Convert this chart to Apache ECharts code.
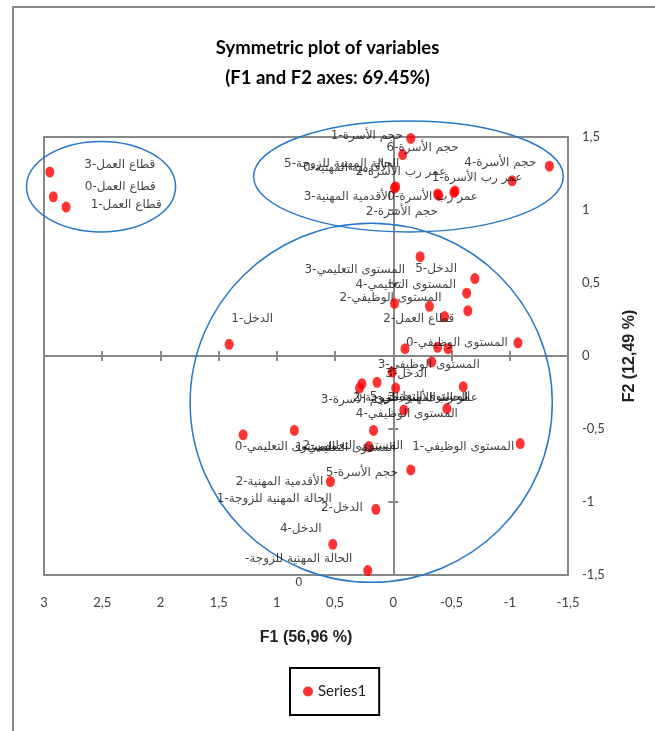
<!DOCTYPE html>
<html>
<head>
<meta charset="utf-8">
<script src="https://cdn.jsdelivr.net/npm/echarts@6/dist/echarts.min.js"></script>
<style>
  html, body { margin: 0; padding: 0; background: #fff; }
  #chart { width: 655px; height: 731px; }
</style>
</head>
<body>
<div id="chart"></div>
<script>
  // coordinates of the categories on F1 / F2
  const pointX = [
    2.95, 2.92, 2.81,
    -0.15, -0.08, -1.34, -1.02, -0.01, -0.38, -0.52, -0.02, -0.39, -0.53,
    -0.23, -0.70, -0.63, -0.01, -0.31, -0.64, -0.44, -1.07, 1.41, -0.10, -0.38, -0.47,
    -0.33, 0.01, 0.27, 0.29, 0.14, -0.02, -0.60, -0.46, -0.09,
    0.17, 0.85, 1.29, -1.09, 0.21, -0.15, 0.54, 0.15, 0.52, 0.22
  ];
  const pointY = [
    1.26, 1.09, 1.02,
    1.49, 1.38, 1.30, 1.20, 1.15, 1.11, 1.12, 1.16, 1.10, 1.13,
    0.68, 0.53, 0.43, 0.36, 0.34, 0.31, 0.27, 0.09, 0.08, 0.05, 0.06, 0.05,
    -0.04, -0.11, -0.19, -0.22, -0.18, -0.22, -0.21, -0.36, -0.37,
    -0.51, -0.51, -0.54, -0.60, -0.62, -0.78, -0.86, -1.05, -1.29, -1.47
  ];
  const pointLabels = [
    'قطاع العمل-3', 'قطاع العمل-0', 'قطاع العمل-1',
    'حجم الأسرة-1', 'حجم الأسرة-6', 'حجم الأسرة-4', 'عمر رب الأسرة-1', 'الأقدمية المهنية-3',
    'عمر رب الأسرة-0', 'حجم الأسرة-2', 'الحالة المهنية للزوجة-5', 'الأقدمية المهنية-0', 'عمر رب الأسرة-2',
    'الدخل-5', 'المستوى التعليمي-3', 'المستوى التعليمي-4', 'المستوى الوظيفي-2', '', 'قطاع العمل-2', '',
    'المستوى الوظيفي-0', 'الدخل-1', '', '', '',
    'المستوى الوظيفي-3', 'الدخل-3', 'حجم الأسرة-3', 'الحالة المهنية للزوجة-2', 'المستوى التعليمي-5',
    'عمر رب الأسرة-3', '', 'المستوى الوظيفي-4', '',
    'المستوى التعليمي-1', 'الحالة المهنية للزوجة-1', 'المستوى التعليمي-0', 'المستوى الوظيفي-1',
    'المستوى التعليمي-2', 'حجم الأسرة-5', 'الأقدمية المهنية-2', 'الدخل-2', 'الدخل-4',
    '-الحالة المهنية للزوجة\n0'
  ];
  // ellipses around groups: centre x, centre y, radius x, radius y
  const groupEllipses = [
    [2.51, 1.16, 0.64, 0.31],
    [-0.13, 1.23, 1.33, 0.38],
    [0.19, -0.32, 1.555, 1.23]
  ];
  const seriesName = 'Series1';

  // where each label sits relative to its point (px)
  const labelShift = [
    [70, -7], [67, -10], [60, -2],
    [-44, -3], [20, -7], [-49, -3], [-35, -3], [-47, 9], [-5, 3], [-52, 19], [-54, -23], [-92, -28], [-54, -19],
    [16, 12], [-120, -9], [-61, -8], [-4, -6], [0, 0], [-49, 8], [0, 0], [-61, 0], [23, -25], [0, 0], [0, 0], [0, 0],
    [-3, 3], [14, 2], [-5, 16], [51, 10], [43, 15], [37, 10], [0, 0], [-40, 5], [0, 0],
    [-28, 17], [-20, 68], [42, 12], [-57, 3], [-16, -1], [-49, 3], [-51, 0], [-34, -1], [-32, -15], [-69, 0]
  ];

  const comma = v => String(v).replace('.', ',');

  const scatterData = pointX.map((x, i) => ({
    value: [x, pointY[i]],
    label: { show: pointLabels[i] !== '', formatter: pointLabels[i], offset: labelShift[i] }
  }));

  function renderEllipse(params, api) {
    const c = api.coord([api.value(0), api.value(1)]);
    const s = api.size([api.value(2), api.value(3)]);
    return {
      type: 'ellipse',
      shape: { cx: c[0], cy: c[1], rx: s[0], ry: s[1] },
      style: { fill: null, stroke: '#2878c8', lineWidth: 1.5 }
    };
  }

  const tickAxisX = inside => ({
    type: 'value', min: -1.5, max: 3, interval: 0.5, inverse: true, position: 'bottom',
    axisLine: { show: !inside, onZero: true, onZeroAxisIndex: 0, lineStyle: { color: '#888', width: 2 } },
    axisTick: { show: true, inside: inside, length: 5, lineStyle: { color: '#888', width: 2 } },
    axisLabel: { show: false }, splitLine: { show: false }
  });
  const tickAxisY = inside => ({
    type: 'value', min: -1.5, max: 1.5, interval: 0.5, position: 'right',
    axisLine: { show: !inside, onZero: true, onZeroAxisIndex: 0, lineStyle: { color: '#888', width: 2 } },
    axisTick: { show: true, inside: inside, length: 5, lineStyle: { color: '#888', width: 2 } },
    axisLabel: { show: false }, splitLine: { show: false }
  });

  const option = {
    backgroundColor: '#fff',
    animation: false,
    title: {
      text: 'Symmetric plot of variables\n(F1 and F2 axes: 69.45%)',
      left: 'center',
      top: 28,
      textStyle: { fontFamily: 'Lato', fontWeight: 'bold', fontSize: 18.5, lineHeight: 30, color: '#000' }
    },
    graphic: [{
      type: 'rect', shape: { x: 13, y: 7, width: 800, height: 900 },
      style: { fill: null, stroke: '#888', lineWidth: 2 }, silent: true
    }],
    legend: {
      data: [seriesName],
      left: 290, top: 668,
      padding: [16, 13],
      borderColor: '#000', borderWidth: 2,
      icon: 'circle', itemWidth: 10, itemHeight: 10, itemGap: 5,
      textStyle: { fontFamily: 'Lato', fontSize: 15, color: '#222' }
    },
    grid: { left: 44, right: 87, top: 137, bottom: 156, show: true, borderColor: '#888', borderWidth: 2 },
    xAxis: [
      {
        type: 'value', min: -1.5, max: 3, interval: 0.5, inverse: true, position: 'bottom',
        axisLine: { show: false, onZero: false }, axisTick: { show: false }, splitLine: { show: false },
        axisLabel: { formatter: comma, margin: 21, fontFamily: 'Lato', fontSize: 13, color: '#404040' },
        name: 'F1 (56,96 %)', nameLocation: 'middle', nameGap: 55,
        nameTextStyle: { fontFamily: 'Liberation Sans', fontWeight: 'bold', fontSize: 16, color: '#222' }
      },
      tickAxisX(false),
      tickAxisX(true)
    ],
    yAxis: [
      {
        type: 'value', min: -1.5, max: 1.5, interval: 0.5, position: 'right',
        axisLine: { show: false, onZero: false }, axisTick: { show: false }, splitLine: { show: false },
        axisLabel: { formatter: comma, margin: 14, fontFamily: 'Lato', fontSize: 13, color: '#404040' },
        name: 'F2 (12,49 %)', nameLocation: 'middle', nameGap: 54, nameRotate: 90,
        nameTextStyle: { fontFamily: 'Liberation Sans', fontWeight: 'bold', fontSize: 16, color: '#222' }
      },
      tickAxisY(false),
      tickAxisY(true)
    ],
    series: [
      {
        type: 'custom',
        renderItem: renderEllipse,
        data: groupEllipses,
        silent: true,
        z: 1
      },
      {
        name: seriesName,
        type: 'scatter',
        data: scatterData,
        symbol: 'circle',
        symbolSize: [9, 11],
        itemStyle: { color: '#ff0000' },
        label: {
          position: 'inside',
          fontFamily: 'DejaVu Sans',
          fontSize: 12,
          lineHeight: 24,
          color: '#111'
        },
        z: 3
      }
    ]
  };

  const chart = echarts.init(document.getElementById('chart'));
  chart.setOption(option);
</script>
</body>
</html>
